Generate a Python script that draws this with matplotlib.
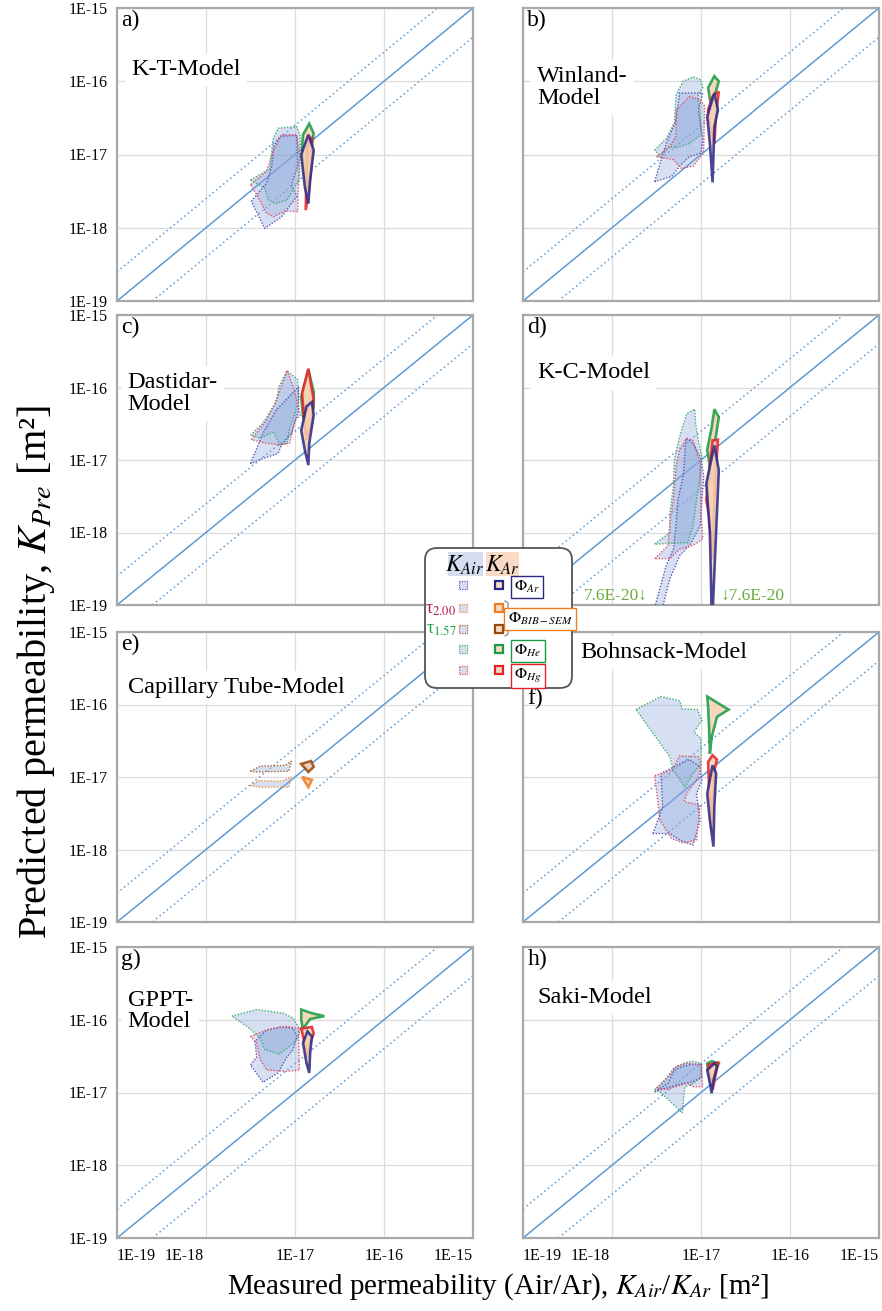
import matplotlib
matplotlib.use("Agg")
import matplotlib.pyplot as plt
from matplotlib.patches import FancyBboxPatch, Rectangle
from matplotlib.transforms import ScaledTranslation

plt.rcParams["font.family"] = ["Liberation Serif", "DejaVu Sans"]
plt.rcParams["mathtext.fontset"] = "stix"

# all polygons are (log10 K_measured, log10 K_predicted)
KT_AIR = {
    "Ar": [(-17.49, -17.64), (-17.32, -17.39), (-17.26, -17.16), (-17.24, -16.89), (-17.17, -16.75), (-16.98, -16.74),
           (-16.97, -17.16), (-17.04, -17.41), (-16.98, -17.57), (-17.15, -17.85), (-17.34, -18.01)],
    "Hg": [(-17.50, -17.41), (-17.32, -17.23), (-17.24, -16.94), (-17.15, -16.73), (-16.98, -16.73), (-16.95, -16.98),
           (-16.96, -17.35), (-16.97, -17.78), (-17.11, -17.77), (-17.24, -17.85), (-17.32, -17.80), (-17.43, -17.55)],
    "He": [(-17.50, -17.35), (-17.28, -17.19), (-17.25, -16.80), (-17.19, -16.64), (-16.98, -16.62), (-16.94, -16.75),
           (-16.95, -17.35), (-17.02, -17.48), (-17.09, -17.62), (-17.22, -17.67), (-17.30, -17.62), (-17.34, -17.46)],
}
KT_AR = {
    "He": [(-16.92, -16.89), (-16.91, -16.73), (-16.84, -16.58), (-16.79, -16.71), (-16.82, -16.94), (-16.86, -17.44),
           (-16.90, -17.26)],
    "Hg": [(-16.88, -17.76), (-16.86, -16.89), (-16.81, -16.76), (-16.81, -17.03), (-16.84, -17.44)],
    "Ar": [(-16.93, -17.00), (-16.85, -16.73), (-16.79, -16.94), (-16.83, -17.35), (-16.85, -17.67), (-16.89, -17.44)],
}

WIN_AIR = {
    "He": [(-17.52, -16.94), (-17.39, -16.78), (-17.30, -16.57), (-17.28, -16.18), (-17.20, -16.00), (-17.09, -15.94),
           (-17.00, -15.98), (-16.98, -16.09), (-17.04, -16.21), (-17.01, -16.39), (-17.00, -16.73), (-17.13, -16.85),
           (-17.28, -16.91), (-17.35, -16.89), (-17.46, -17.03)],
    "Ar": [(-17.52, -17.37), (-17.46, -17.12), (-17.39, -16.85), (-17.28, -16.53), (-17.24, -16.16), (-16.98, -16.16),
           (-17.03, -16.39), (-16.98, -16.80), (-17.00, -16.98), (-17.13, -17.03), (-17.24, -17.16), (-17.33, -17.30)],
    "Hg": [(-17.50, -17.03), (-17.35, -16.89), (-17.28, -16.75), (-17.28, -16.39), (-17.20, -16.30), (-17.13, -16.21),
           (-17.01, -16.25), (-16.96, -16.34), (-16.97, -16.98), (-17.09, -17.16), (-17.22, -17.19), (-17.31, -17.07)],
}
WIN_AR = {
    "He": [(-16.92, -16.09), (-16.85, -15.93), (-16.80, -16.00), (-16.85, -16.21), (-16.87, -16.39), (-16.90, -16.25)],
    "Hg": [(-16.92, -16.39), (-16.87, -16.21), (-16.80, -16.14), (-16.83, -16.44), (-16.85, -16.85), (-16.90, -16.62)],
    "Ar": [(-16.93, -16.48), (-16.85, -16.16), (-16.81, -16.39), (-16.85, -16.62), (-16.87, -17.38), (-16.90, -16.85)],
}

DAS_AIR = {
    "He": [(-17.50, -16.66), (-17.36, -16.49), (-17.21, -16.20), (-17.18, -15.99), (-17.09, -15.77), (-16.97, -15.89),
           (-16.96, -16.17), (-17.00, -16.36), (-17.06, -16.56), (-17.09, -16.77), (-17.17, -16.79), (-17.24, -16.61),
           (-17.39, -16.70)],
    "Hg": [(-17.49, -16.72), (-17.32, -16.45), (-17.21, -16.17), (-17.14, -15.94), (-17.09, -15.76), (-17.02, -15.99),
           (-16.94, -16.38), (-17.00, -16.45), (-17.06, -16.77), (-17.17, -16.79), (-17.32, -16.77)],
    "Ar": [(-17.50, -17.05), (-17.43, -16.84), (-17.36, -16.63), (-17.21, -16.31), (-16.96, -15.99), (-16.96, -16.31),
           (-17.04, -16.63), (-17.15, -16.79), (-17.19, -16.91), (-17.36, -16.98)],
}
DAS_AR = {
    "He": [(-16.93, -16.13), (-16.85, -15.76), (-16.79, -16.06), (-16.79, -16.26), (-16.85, -16.54), (-16.91, -16.40)],
    "Hg": [(-16.92, -16.08), (-16.85, -15.74), (-16.79, -16.17), (-16.82, -16.54), (-16.87, -16.72), (-16.90, -16.40)],
    "Ar": [(-16.93, -16.59), (-16.87, -16.26), (-16.81, -16.20), (-16.79, -16.38), (-16.84, -16.77), (-16.85, -17.07),
           (-16.89, -16.86)],
}

KC_AIR = {
    "He": [(-17.52, -18.16), (-17.35, -18.00), (-17.35, -17.73), (-17.31, -17.36), (-17.30, -17.00), (-17.24, -16.68),
           (-17.16, -16.36), (-17.07, -16.30), (-17.06, -16.50), (-17.03, -16.73), (-16.99, -16.95), (-17.01, -17.23),
           (-17.05, -17.55), (-17.09, -17.91), (-17.15, -18.14)],
    "Ar": [(-17.54, -19.12), (-17.39, -18.45), (-17.31, -18.23), (-17.28, -17.91), (-17.26, -17.55), (-17.20, -17.23),
           (-17.17, -16.70), (-17.09, -16.77), (-17.00, -16.98), (-16.97, -17.23), (-17.01, -17.91), (-17.13, -18.18),
           (-17.24, -18.32), (-17.35, -18.64), (-17.45, -19.12)],
    "Hg": [(-17.52, -18.36), (-17.37, -18.18), (-17.35, -17.86), (-17.31, -17.55), (-17.28, -17.09), (-17.24, -16.86),
           (-17.16, -16.70), (-17.09, -16.73), (-17.01, -17.05), (-17.00, -17.73), (-16.98, -18.09), (-17.09, -18.18),
           (-17.24, -18.23), (-17.35, -18.36)],
}
KC_AR = {
    "He": [(-16.93, -16.86), (-16.88, -16.55), (-16.85, -16.30), (-16.80, -16.41), (-16.84, -16.73), (-16.87, -17.32),
           (-16.90, -17.09)],
    "Hg": [(-16.94, -17.55), (-16.87, -16.73), (-16.81, -16.72), (-16.85, -17.55), (-16.87, -18.36), (-16.91, -17.77)],
    "Ar": [(-16.94, -17.32), (-16.85, -16.80), (-16.80, -17.14), (-16.87, -19.12), (-16.88, -19.12), (-16.90, -18.00)],
}

CT_AIR = {
    "t157": [(-17.50, -16.92), (-17.39, -16.85), (-17.11, -16.84), (-17.04, -16.78), (-17.07, -16.92), (-17.43, -16.93)],
    "t200": [(-17.50, -17.12), (-17.41, -17.05), (-17.15, -17.06), (-17.04, -17.00), (-17.07, -17.14), (-17.39, -17.14)],
}
CT_AR = {
    "t157": [(-16.93, -16.82), (-16.82, -16.78), (-16.79, -16.86), (-16.85, -16.93)],
    "t200": [(-16.92, -17.00), (-16.81, -17.04), (-16.85, -17.14)],
}

BOH_AIR = {
    "He": [(-17.73, -16.07), (-17.45, -15.89), (-17.24, -15.95), (-17.21, -16.06), (-17.04, -16.07), (-16.99, -16.22),
           (-17.08, -16.38), (-17.00, -16.47), (-17.00, -16.82), (-17.09, -16.95), (-17.18, -17.14), (-17.31, -16.91),
           (-17.35, -16.72)],
    "Ar": [(-17.54, -17.78), (-17.43, -17.41), (-17.45, -16.95), (-17.24, -16.82), (-17.13, -16.76), (-17.01, -16.86),
           (-16.99, -17.05), (-17.05, -17.23), (-17.01, -17.60), (-17.09, -17.94), (-17.24, -17.87), (-17.35, -17.78)],
    "Hg": [(-17.52, -16.98), (-17.33, -16.91), (-17.24, -16.71), (-17.03, -16.72), (-17.00, -16.86), (-17.03, -17.00),
           (-17.16, -17.23), (-17.19, -17.34), (-17.01, -17.39), (-17.05, -17.87), (-17.20, -17.91), (-17.33, -17.85),
           (-17.46, -17.60)],
}
BOH_AR = {
    "He": [(-16.93, -15.89), (-16.69, -16.07), (-16.82, -16.17), (-16.88, -16.45), (-16.90, -16.68), (-16.91, -16.31),
           (-16.92, -16.03)],
    "Hg": [(-16.92, -16.79), (-16.87, -16.70), (-16.82, -16.76), (-16.85, -16.91), (-16.87, -17.41), (-16.88, -17.74),
           (-16.91, -17.14)],
    "Ar": [(-16.93, -17.23), (-16.87, -16.84), (-16.83, -16.95), (-16.85, -17.41), (-16.86, -17.96), (-16.90, -17.60)],
}

GPPT_AIR = {
    "He": [(-17.71, -15.95), (-17.43, -15.86), (-17.13, -15.91), (-17.02, -15.98), (-16.94, -16.14), (-16.98, -16.28),
           (-17.17, -16.47), (-17.34, -16.41), (-17.39, -16.25), (-17.54, -16.09)],
    "Ar": [(-17.50, -16.62), (-17.43, -16.51), (-17.45, -16.30), (-17.32, -16.14), (-17.17, -16.10), (-17.02, -16.12),
           (-16.98, -16.23), (-17.02, -16.41), (-17.09, -16.51), (-17.19, -16.73), (-17.36, -16.86)],
    "Hg": [(-17.50, -16.23), (-17.32, -16.14), (-17.09, -16.09), (-16.96, -16.12), (-16.95, -16.69), (-17.09, -16.71),
           (-17.32, -16.69), (-17.39, -16.55), (-17.43, -16.32)],
}
GPPT_AR = {
    "He": [(-16.93, -15.86), (-16.81, -15.91), (-16.67, -15.95), (-16.83, -15.99), (-16.89, -16.09), (-16.91, -16.14),
           (-16.93, -16.00)],
    "Hg": [(-16.93, -16.12), (-16.81, -16.10), (-16.79, -16.19), (-16.83, -16.32), (-16.86, -16.51), (-16.90, -16.28)],
    "Ar": [(-16.91, -16.32), (-16.86, -16.16), (-16.81, -16.23), (-16.83, -16.46), (-16.84, -16.73), (-16.87, -16.60)],
}

SAKI_AIR = {
    "He": [(-17.52, -16.96), (-17.41, -16.85), (-17.31, -16.67), (-17.18, -16.59), (-17.09, -16.57), (-17.00, -16.60),
           (-16.99, -16.78), (-17.09, -16.88), (-17.18, -16.92), (-17.19, -17.03), (-17.21, -17.28), (-17.45, -17.00)],
    "Ar": [(-17.52, -16.99), (-17.37, -16.87), (-17.30, -16.69), (-17.20, -16.64), (-17.09, -16.61), (-16.99, -16.62),
           (-17.00, -16.80), (-17.09, -16.85), (-17.24, -16.89), (-17.39, -16.94)],
    "Hg": [(-17.50, -16.94), (-17.33, -16.73), (-17.28, -16.64), (-17.16, -16.60), (-17.00, -16.62), (-16.98, -16.92),
           (-17.09, -16.92), (-17.15, -16.87), (-17.28, -16.92), (-17.39, -16.96)],
}
SAKI_AR = {
    "He": [(-16.93, -16.60), (-16.88, -16.57), (-16.80, -16.60), (-16.84, -16.73), (-16.87, -16.92), (-16.91, -16.78)],
    "Hg": [(-16.92, -16.62), (-16.81, -16.59), (-16.84, -16.78), (-16.87, -16.96)],
    "Ar": [(-16.93, -16.69), (-16.85, -16.60), (-16.82, -16.64), (-16.86, -16.83), (-16.88, -17.01), (-16.90, -16.87)],
}

DECADES = [1e-19, 1e-18, 1e-17, 1e-16, 1e-15]
TICK_LABELS = ["1E-19", "1E-18", "1E-17", "1E-16", "1E-15"]
BAND_FACTOR = 2.5
CUTOFF_LABEL = "7.6E-20"

LINE_COLORS = {"Ar": "#2a2886", "t200": "#ee7d1f", "t157": "#96480f", "He": "#179a43", "Hg": "#e4202a"}
DOT_COLORS = {"Ar": "#5e57b3", "t200": "#f0903a", "t157": "#b0622a", "He": "#3cae70", "Hg": "#e9506a"}
AIR_FILL = "#8ea7dc"
AR_FILL = "#f6d2b3"
DIAG = "#5b9bd5"

W, H = 882, 1311

PANELS = [
    ("a)", "K-T-Model", KT_AIR, KT_AR, (117, 8, 473, 301), (0.04, 0.79)),
    ("b)", "Winland-\nModel", WIN_AIR, WIN_AR, (523, 8, 879, 301), (0.04, 0.73)),
    ("c)", "Dastidar-\nModel", DAS_AIR, DAS_AR, (117, 315, 473, 605), (0.03, 0.73)),
    ("d)", "K-C-Model", KC_AIR, KC_AR, (523, 315, 879, 605), (0.04, 0.80)),
    ("e)", "Capillary Tube-Model", CT_AIR, CT_AR, (117, 632, 473, 922), (0.03, 0.81)),
    ("f)", "Bohnsack-Model", BOH_AIR, BOH_AR, (523, 632, 879, 922), (0.16, 0.93)),
    ("g)", "GPPT-\nModel", GPPT_AIR, GPPT_AR, (117, 947, 473, 1238), (0.03, 0.78)),
    ("h)", "Saki-Model", SAKI_AIR, SAKI_AR, (523, 947, 879, 1238), (0.04, 0.825)),
]


def draw_polygons(ax, polys, measured_ar):
    for key, pts in polys.items():
        xs = [10 ** p[0] for p in pts]
        ys = [10 ** p[1] for p in pts]
        if measured_ar:
            ax.fill(xs, ys, facecolor=AR_FILL, alpha=0.85, edgecolor=LINE_COLORS[key], linewidth=1.9, zorder=5)
        else:
            ax.fill(xs, ys, facecolor=AIR_FILL, alpha=0.35, edgecolor="none", zorder=3)
            ax.fill(xs, ys, facecolor="none", edgecolor=DOT_COLORS[key], linewidth=1.0,
                    linestyle=(0, (1, 1.2)), zorder=4)


def setup_axes(ax, col, row):
    ax.set_xscale("log")
    ax.set_yscale("log")
    ax.set_xlim(DECADES[0], DECADES[-1])
    ax.set_ylim(DECADES[0], DECADES[-1])
    ax.set_xticks(DECADES)
    ax.set_yticks(DECADES)
    ax.minorticks_off()
    ax.grid(True, color="#dcdcdc", linewidth=0.9, zorder=0)
    ax.set_axisbelow(True)
    ax.tick_params(length=0, labelsize=11.5, pad=7)
    for sp in ax.spines.values():
        sp.set_color("#a9a9a9")
        sp.set_linewidth(1.6)
    ax.set_yticklabels(TICK_LABELS if col == 0 else [])
    if row == 3:
        ax.set_xticklabels(TICK_LABELS)
        labels = ax.get_xticklabels()
        labels[0].set_ha("left")
        labels[-1].set_ha("right")
        labels[1].set_transform(labels[1].get_transform() + ScaledTranslation(-0.22, 0, ax.figure.dpi_scale_trans))
    else:
        ax.set_xticklabels([])

    ax.plot(DECADES, DECADES, color=DIAG, linewidth=1.1, zorder=2)
    ax.plot(DECADES, [d * BAND_FACTOR for d in DECADES], color=DIAG, linewidth=1.1,
            linestyle=(0, (1, 2)), zorder=2)
    ax.plot(DECADES, [d / BAND_FACTOR for d in DECADES], color=DIAG, linewidth=1.1,
            linestyle=(0, (1, 2)), zorder=2)


fig = plt.figure(figsize=(W / 100, H / 100), dpi=100)

for i, (letter, name, air, ar, box, name_pos) in enumerate(PANELS):
    left, top, right, bottom = box
    ax = fig.add_axes([left / W, 1 - bottom / H, (right - left) / W, (bottom - top) / H])
    setup_axes(ax, i % 2, i // 2)
    draw_polygons(ax, air, False)
    draw_polygons(ax, ar, True)
    if letter == "f)":
        ax.text(0.012, 0.77, letter, transform=ax.transAxes, fontsize=17, va="center", ha="left", zorder=8)
    else:
        ax.text(0.012, 0.995, letter, transform=ax.transAxes, fontsize=17, va="top", ha="left", zorder=8)
    ax.text(name_pos[0], name_pos[1], name, transform=ax.transAxes, fontsize=17.5, va="center", ha="left",
            linespacing=1.05, zorder=8,
            bbox=dict(boxstyle="square,pad=0.25", facecolor="white", edgecolor="none"))
    if letter == "d)":
        ax.text(0.17, 0.005, CUTOFF_LABEL + "\u2193", transform=ax.transAxes, fontsize=12.5,
                color="#6aaa3a", va="bottom", ha="left", zorder=8)
        ax.text(0.555, 0.005, "\u2193" + CUTOFF_LABEL, transform=ax.transAxes, fontsize=12.5,
                color="#6aaa3a", va="bottom", ha="left", zorder=8)

fig.text(36 / W, 1 - 672 / H, "Predicted permeability, $K_{Pre}$ [m²]", rotation=90, fontsize=29,
         ha="center", va="center")
fig.text(498 / W, 1 - 1287 / H, "Measured permeability (Air/Ar), $K_{Air}$/$K_{Ar}$ [m²]", fontsize=21,
         ha="center", va="center")

# legend box drawn in pixel coordinates on an overlay
ov = fig.add_axes([0, 0, 1, 1], zorder=20)
ov.set_xlim(0, W)
ov.set_ylim(H, 0)
ov.axis("off")
ov.add_patch(FancyBboxPatch((425, 548), 147, 140, boxstyle="round,pad=0,rounding_size=12",
                            facecolor="white", edgecolor="#555555", linewidth=1.3))
ov.add_patch(Rectangle((448, 552), 35, 24, facecolor="#d5ddf0", edgecolor="none"))
ov.add_patch(Rectangle((486, 552), 33, 24, facecolor="#f9dbc5", edgecolor="none"))
ov.text(465, 565, "$K_{Air}$", fontsize=17, ha="center", va="center")
ov.text(502, 565, "$K_{Ar}$", fontsize=17, ha="center", va="center")

rows = [("Ar", 585), ("t200", 608), ("t157", 629), ("He", 649), ("Hg", 670)]
for key, y in rows:
    ov.add_patch(Rectangle((459, y - 4), 8, 8, facecolor="#d5ddf0", edgecolor=DOT_COLORS[key],
                           linewidth=0.9, linestyle=(0, (1, 1))))
    ov.add_patch(Rectangle((495, y - 4), 8, 8, facecolor="#f9dbc5", edgecolor=LINE_COLORS[key], linewidth=1.6))

ov.text(441, 610, "τ$_{2.00}$", fontsize=13, color="#b5124f", ha="center", va="center")
ov.text(441, 630, "τ$_{1.57}$", fontsize=13, color="#18a050", ha="center", va="center")
# curly bracket joining the two BIB-SEM rows
ov.plot([505, 508, 508, 511, 508, 508, 505], [601, 603, 616, 618.5, 621, 634, 636], color="#888888", linewidth=0.9)

phi_labels = [("$\\Phi_{Ar}$", 527, 587, "Ar"), ("$\\Phi_{BIB-SEM}$", 540, 619, "t200"),
              ("$\\Phi_{He}$", 528, 651, "He"), ("$\\Phi_{Hg}$", 528, 676, "Hg")]
for txt, x, y, key in phi_labels:
    ov.text(x, y, txt, fontsize=11.5, ha="center", va="center",
            bbox=dict(boxstyle="square,pad=0.2", facecolor="white", edgecolor=LINE_COLORS[key], linewidth=1.0))

fig.savefig("out.png", dpi=100)
